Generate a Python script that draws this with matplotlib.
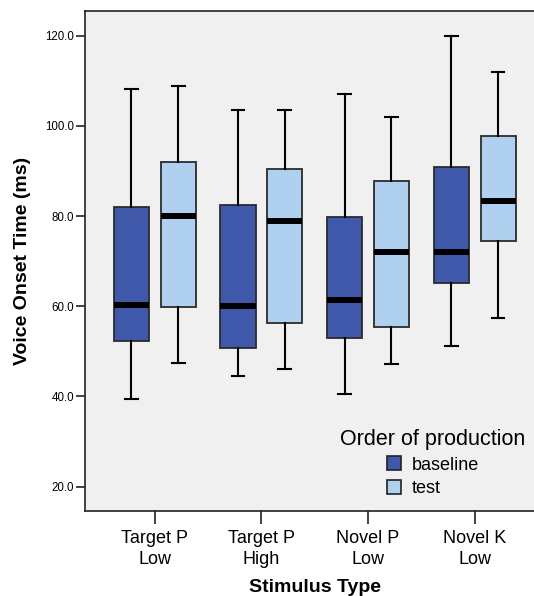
import matplotlib
matplotlib.use("Agg")
import matplotlib.pyplot as plt
from matplotlib.patches import Patch
import numpy as np

plt.rcParams['font.family'] = ['Liberation Sans', 'DejaVu Sans']

categories = ["Target P\nLow", "Target P\nHigh", "Novel P\nLow", "Novel K\nLow"]
series_names = ["baseline", "test"]

baseline_whislo = [39.4, 44.6, 40.6, 51.3]
baseline_q1 = [52.4, 50.7, 53.0, 65.2]
baseline_med = [60.2, 60.0, 61.4, 72.1]
baseline_q3 = [82.1, 82.4, 79.7, 90.9]
baseline_whishi = [108.1, 103.5, 107.0, 120.0]

test_whislo = [47.5, 46.2, 47.3, 57.3]
test_q1 = [59.8, 56.4, 55.5, 74.4]
test_med = [80.0, 79.0, 72.0, 83.3]
test_q3 = [91.9, 90.4, 87.8, 97.8]
test_whishi = [108.8, 103.5, 102.0, 112.0]

yticks = [20.0, 40.0, 60.0, 80.0, 100.0, 120.0]

colors = ["#3F58AA", "#AFD0EE"]

fig = plt.figure(figsize=(5.34, 5.96), dpi=100)
ax = fig.add_axes([85/534, 85/596, 460/534, 500/596])
ax.set_facecolor("#F0F0F0")

def make_stats(lo, q1, med, q3, hi):
    return [dict(whislo=a, q1=b, med=c, q3=d, whishi=e, fliers=[])
            for a, b, c, d, e in zip(lo, q1, med, q3, hi)]

groups = [
    make_stats(baseline_whislo, baseline_q1, baseline_med, baseline_q3, baseline_whishi),
    make_stats(test_whislo, test_q1, test_med, test_q3, test_whishi),
]
x = np.arange(len(categories))
offsets = [-0.22, 0.22]
for stats, off, col in zip(groups, offsets, colors):
    ax.bxp(stats, positions=x + off, widths=0.33, patch_artist=True,
           showfliers=False, capwidths=0.12,
           boxprops=dict(facecolor=col, edgecolor="#2b2b2b", linewidth=1.3),
           medianprops=dict(color="black", linewidth=4.3, solid_capstyle="butt"),
           whiskerprops=dict(color="black", linewidth=1.5),
           capprops=dict(color="black", linewidth=1.5),
           manage_ticks=False)

ax.set_xlim(-0.655, 3.66)
ax.set_ylim(14.6, 125.5)
ax.set_xticks(x)
ax.set_xticklabels(categories, fontsize=13, linespacing=1.3)
ax.set_yticks(yticks)
ax.set_yticklabels([f"{v:.1f}" for v in yticks], fontsize=8.3)
ax.tick_params(axis='x', length=9, width=1.2, pad=5, color="#222222")
ax.tick_params(axis='y', length=6.5, width=1.2, pad=1.5, color="#222222")
for s in ["left", "bottom", "top"]:
    ax.spines[s].set_color("#222222")
    ax.spines[s].set_linewidth(1.2)
ax.spines["right"].set_visible(False)

ax.set_ylabel("Voice Onset Time (ms)", fontsize=14, fontweight="bold", labelpad=10)
ax.set_xlabel("Stimulus Type", fontsize=14, fontweight="bold", labelpad=8)

handles = [Patch(facecolor=c, edgecolor="#222222", linewidth=1.2) for c in colors]
leg = ax.legend(handles, series_names, title="Order of production",
                loc="center", bbox_to_anchor=(433/534, 1 - 463/596),
                bbox_transform=fig.transFigure, frameon=False, fontsize=13,
                title_fontsize=15.5, handlelength=0.8, handleheight=0.8,
                handletextpad=0.6, labelspacing=0.35, borderpad=0)

fig.savefig("out.png", dpi=100)
